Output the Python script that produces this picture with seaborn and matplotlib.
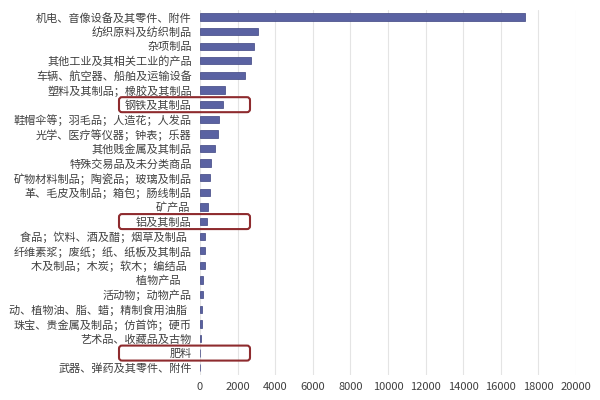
import matplotlib
matplotlib.use("Agg")
import matplotlib.pyplot as plt
import seaborn as sns
import pandas as pd
from matplotlib.patches import FancyBboxPatch
from matplotlib.transforms import IdentityTransform

categories = [
    "机电、音像设备及其零件、附件",
    "纺织原料及纺织制品",
    "杂项制品",
    "其他工业及其相关工业的产品",
    "车辆、航空器、船舶及运输设备",
    "塑料及其制品；橡胶及其制品",
    "钢铁及其制品",
    "鞋帽伞等；羽毛品；人造花；人发品",
    "光学、医疗等仪器；钟表；乐器",
    "其他贱金属及其制品",
    "特殊交易品及未分类商品",
    "矿物材料制品；陶瓷品；玻璃及制品",
    "革、毛皮及制品；箱包；肠线制品",
    "矿产品 ",
    "铝及其制品",
    "食品；饮料、酒及醋；烟草及制品  ",
    "纤维素浆；废纸；纸、纸板及其制品",
    "木及制品；木炭；软木；编结品  ",
    "植物产品\u3000",
    "活动物；动物产品",
    "动、植物油、脂、蜡；精制食用油脂  ",
    "珠宝、贵金属及制品；仿首饰；硬币",
    "艺术品、收藏品及古物",
    "肥料",
    "武器、弹药及其零件、附件",
]
values = [17300, 3100, 2870, 2730, 2380, 1330, 1220, 1010, 950, 800,
          600, 530, 510, 430, 360, 270, 250, 240, 180, 170,
          110, 100, 30, 25, 5]
highlighted = ["钢铁及其制品", "铝及其制品", "肥料"]
x_ticks = [0, 2000, 4000, 6000, 8000, 10000, 12000, 14000, 16000, 18000, 20000]

sns.set_theme(style="white")
plt.rcParams["font.family"] = ["Noto Sans CJK SC", "DejaVu Sans"]

df = pd.DataFrame({"category": categories, "value": values})

fig = plt.figure(figsize=(6, 4), dpi=100)
ax = fig.add_axes([200 / 600, 1 - 375 / 400, 376 / 600, (375 - 9.7) / 400])

sns.barplot(data=df, x="value", y="category", orient="h", ax=ax,
            color="#5a62a2", edgecolor="#3c4380", linewidth=0.5,
            width=0.5, saturation=1)

ax.set_xlim(0, 20000)
ax.set_ylim(len(categories) - 0.5, -0.5)
ax.set_xticks(x_ticks)
ax.set_xticklabels([str(t) for t in x_ticks])
ax.xaxis.grid(True, color="#e4e4e4", linewidth=0.8)
ax.set_axisbelow(True)
for s in ax.spines.values():
    s.set_visible(False)
ax.tick_params(axis="both", length=0, labelsize=8, colors="#404040")
ax.tick_params(axis="y", pad=6)
ax.tick_params(axis="x", pad=5)
ax.set_xlabel("")
ax.set_ylabel("")

# highlight boxes (pixel coordinates)
for name in highlighted:
    idx = categories.index(name)
    ypix = ax.transData.transform((0, idx))[1]
    h = 15
    box = FancyBboxPatch((119, ypix - h / 2), 131, h,
                         boxstyle="round,pad=0,rounding_size=3",
                         transform=IdentityTransform(),
                         facecolor="none", edgecolor="#8e2b2e",
                         linewidth=1.5, clip_on=False)
    fig.add_artist(box)

fig.savefig("out.png", dpi=100)
